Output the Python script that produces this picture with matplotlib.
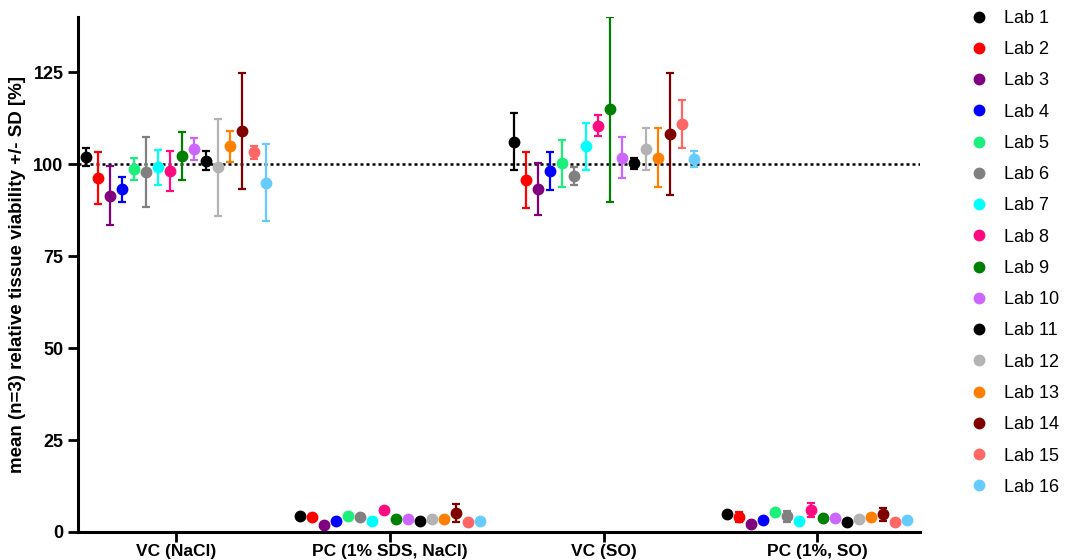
import matplotlib
matplotlib.use("Agg")
import matplotlib.pyplot as plt
from matplotlib.lines import Line2D
import numpy as np

plt.rcParams['font.family'] = ['Liberation Sans', 'DejaVu Sans']

groups = ['VC (NaCl)', 'PC (1% SDS, NaCl)', 'VC (SO)', 'PC (1%, SO)']
labs = ['Lab %d' % i for i in range(1, 17)]
colors = ['#000000', '#ff0000', '#800080', '#0000ff', '#1af07a', '#808080',
          '#00ffff', '#ff0a80', '#008000', '#cc66ff', '#000000', '#b3b3b3',
          '#ff8000', '#800000', '#ff6666', '#66ccff']

# mean values per group and lab
means_vc_nacl = [102.0, 96.2, 91.4, 93.2, 98.6, 97.9, 99.1, 98.1,
                 102.2, 104.1, 100.9, 99.1, 104.9, 109.0, 103.2, 95.0]
sd_vc_nacl = [2.5, 7.0, 8.0, 3.4, 3.0, 9.5, 4.7, 5.5,
              6.5, 3.0, 2.6, 13.3, 4.2, 15.8, 1.7, 10.4]

means_pc_nacl = [4.3, 4.0, 2.0, 3.0, 4.4, 4.0, 3.0, 6.0,
                 3.6, 3.4, 3.0, 3.4, 3.5, 5.2, 2.7, 3.0]
sd_pc_nacl = [0.4, 0.5, 0.4, 0.4, 0.4, 0.4, 0.4, 0.5,
              0.4, 0.4, 0.4, 0.4, 0.4, 2.5, 0.4, 0.4]

means_vc_so = [106.1, 95.8, 93.3, 98.1, 100.2, 96.7, 104.9, 110.5,
               114.9, 101.8, 100.2, 104.0, 101.8, 108.3, 110.9, 101.5]
sd_vc_so = [7.7, 7.6, 7.0, 5.2, 6.4, 2.4, 6.4, 2.8,
            25.2, 5.5, 1.4, 5.7, 8.0, 16.6, 6.5, 2.2]

means_pc_so = [4.8, 4.0, 2.2, 3.3, 5.4, 4.3, 3.0, 6.0,
               3.8, 3.8, 2.8, 3.4, 4.2, 4.8, 2.8, 3.3]
sd_pc_so = [0.4, 1.4, 0.4, 0.4, 0.4, 1.5, 0.4, 1.8,
            0.4, 0.4, 0.4, 0.4, 0.8, 1.8, 0.4, 0.4]

means = [means_vc_nacl, means_pc_nacl, means_vc_so, means_pc_so]
sds = [sd_vc_nacl, sd_pc_nacl, sd_vc_so, sd_pc_so]

fig = plt.figure(figsize=(10.65, 5.6), dpi=100)
ax = fig.add_axes([78 / 1065, 1 - 532 / 560, (920 - 78) / 1065, (532 - 17) / 560])

step = 0.0562
offsets = (np.arange(16) - 7.5) * step
for g in range(4):
    for i in range(16):
        ax.errorbar(g + offsets[i], means[g][i], yerr=sds[g][i], fmt='o',
                    color=colors[i], ms=7.5, elinewidth=1.6, capsize=3,
                    capthick=1.6, zorder=3)

ax.axhline(100, color='black', ls=(0, (1.2, 1.2)), lw=1.8, zorder=2)

ax.set_xlim(-0.46, 3.48)
ax.set_ylim(0, 140)
ax.set_yticks([0, 25, 50, 75, 100, 125])
ax.set_xticks(range(4))
ax.set_xticklabels(groups)
for s in ['top', 'right']:
    ax.spines[s].set_visible(False)
for s in ['left', 'bottom']:
    ax.spines[s].set_linewidth(2.2)
ax.tick_params(width=2, length=7, labelsize=13)
ax.tick_params(axis='x', pad=1.5, labelsize=12.5)
for t in ax.get_xticklabels() + ax.get_yticklabels():
    t.set_fontweight('bold')
ax.set_ylabel('mean (n=3) relative tissue viability +/- SD [%]',
              fontsize=13.5, fontweight='bold', labelpad=5)

handles = [Line2D([], [], marker='o', ls='none', color=c, ms=7.5) for c in colors]
fig.legend(handles, labs, loc='upper left', bbox_to_anchor=(948 / 1065, 1.005),
           frameon=False, fontsize=13, labelspacing=0.79, handletextpad=0.4,
           borderaxespad=0.3)

fig.savefig('out.png', dpi=100)
